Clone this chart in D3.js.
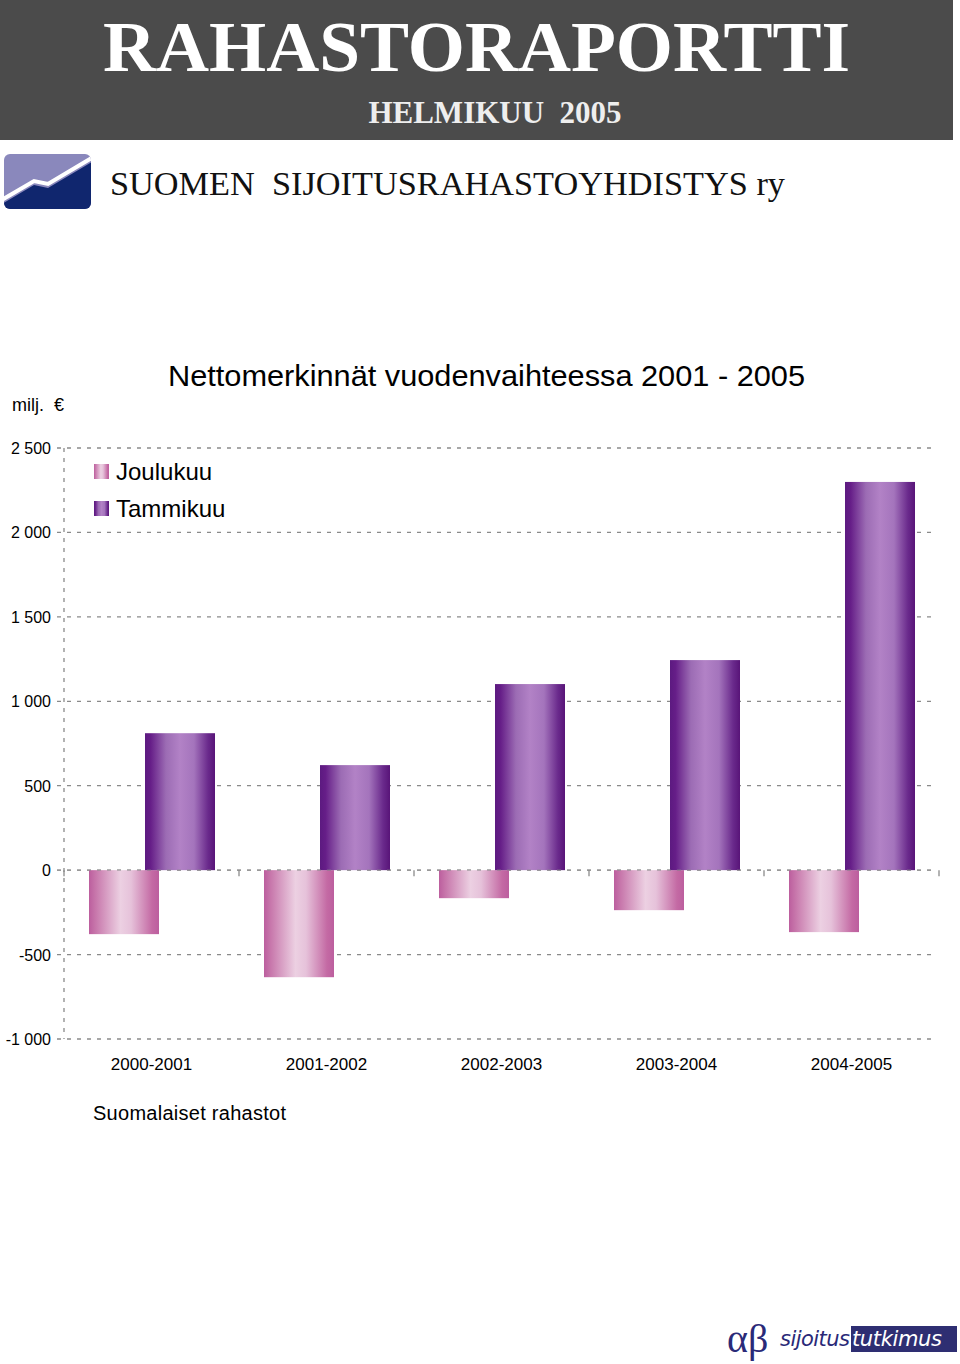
<!DOCTYPE html>
<html><head><meta charset="utf-8">
<script src="https://cdn.jsdelivr.net/npm/d3@7"></script>
<style>body{margin:0;background:#fff}svg{display:block}</style>
</head><body>
<script>
const categories = ["2000-2001","2001-2002","2002-2003","2003-2004","2004-2005"];
const seriesNames = ["Joulukuu","Tammikuu"];
const joulukuu = [-379,-634,-166,-237,-367];
const tammikuu = [811,622,1102,1244,2299];
const yTicks = [2500,2000,1500,1000,500,0,-500,-1000];
const yTickLabels = ["2 500","2 000","1 500","1 000","500","0","-500","-1 000"];

const W=960,H=1364;
const SANS="Liberation Sans, Arial, sans-serif", SERIF="Liberation Serif, DejaVu Serif, serif";
const svg=d3.select("body").append("svg").attr("width",W).attr("height",H);
const defs=svg.append("defs");
(function(){const g=defs.append("linearGradient").attr("id","gJ").attr("x1","0").attr("x2","1");
 [[0,"#bc5e9e"],[0.1,"#c878ac"],[0.45,"#ecd0e2"],[0.6,"#e6c2da"],[0.9,"#c46aa4"],[1,"#bc5e9e"]].forEach(s=>g.append("stop").attr("offset",s[0]).attr("stop-color",s[1]));})();
(function(){const g=defs.append("linearGradient").attr("id","gT").attr("x1","0").attr("x2","1");
 [[0,"#5c1a80"],[0.08,"#661e88"],[0.3,"#9c6cb4"],[0.5,"#b282c6"],[0.7,"#a474bc"],[0.9,"#6a2a8c"],[1,"#581478"]].forEach(s=>g.append("stop").attr("offset",s[0]).attr("stop-color",s[1]));})();

// Header
svg.append("rect").attr("x",0).attr("y",0).attr("width",953).attr("height",140).attr("fill","#4b4b4b");
svg.append("text").attr("x",103).attr("y",71).attr("fill","#fff")
 .attr("font-family",SERIF).attr("font-weight","bold").attr("font-size",72).attr("textLength",747).attr("lengthAdjust","spacingAndGlyphs").text("RAHASTORAPORTTI");
svg.append("text").attr("x",495).attr("y",123).attr("text-anchor","middle").attr("fill","#eeeeee")
 .attr("font-family",SERIF).attr("font-weight","bold").attr("font-size",31)
 .attr("xml:space","preserve").text("HELMIKUU  2005");
// logo
const lg=svg.append("g");
lg.append("clipPath").attr("id","lc").append("rect").attr("x",4).attr("y",154).attr("width",87).attr("height",55).attr("rx",6);
const lgc=lg.append("g").attr("clip-path","url(#lc)");
lgc.append("rect").attr("x",4).attr("y",154).attr("width",87).attr("height",55).attr("fill","#8a88bc");
lgc.append("path").attr("d","M0,205 L34,185 L48,188 L95,160 L95,215 L0,215 Z").attr("fill","#10266e");
lgc.append("path").attr("d","M0,201 L34,181 L48,184 L95,156").attr("fill","none").attr("stroke","#fff").attr("stroke-width",4);
svg.append("text").attr("x",110).attr("y",195).attr("fill","#111").attr("font-family",SERIF)
 .attr("font-size",33).attr("textLength",675).attr("lengthAdjust","spacingAndGlyphs").attr("xml:space","preserve").text("SUOMEN  SIJOITUSRAHASTOYHDISTYS ry");

// chart titles
svg.append("text").attr("x",168).attr("y",386).attr("font-family",SANS)
 .attr("font-size",30).attr("textLength",637).attr("lengthAdjust","spacingAndGlyphs").attr("fill","#000").text("Nettomerkinnät vuodenvaihteessa 2001 - 2005");
svg.append("text").attr("x",12).attr("y",411).attr("font-family",SANS).attr("font-size",18).text("milj.");
svg.append("text").attr("x",54).attr("y",411).attr("font-family",SANS).attr("font-size",18).text("€");

// scales
const y=d3.scaleLinear().domain([-1000,2500]).range([1039,448]);
const x=d3.scaleBand().domain(categories).range([64,939]).paddingInner(0).paddingOuter(0);
const bw=70;
// grid
const gridG=svg.append("g");
yTicks.forEach((t,i)=>{
  gridG.append("line").attr("x1",57).attr("x2",936).attr("y1",y(t)).attr("y2",y(t))
   .attr("stroke","#8a8a8a").attr("stroke-width",1.3).attr("stroke-dasharray","4,6");
  svg.append("text").attr("x",51).attr("y",y(t)+6).attr("text-anchor","end").attr("font-family",SANS)
   .attr("font-size",16).text(yTickLabels[i]);
});
svg.append("line").attr("x1",64).attr("x2",64).attr("y1",y(2500)).attr("y2",y(-1000)).attr("stroke","#8a8a8a").attr("stroke-width",1.3).attr("stroke-dasharray","4,6");
// category ticks at zero
categories.concat(["end"]).forEach((c,i)=>{
  const xx= i<categories.length ? x(c) : 939;
  svg.append("line").attr("x1",xx).attr("x2",xx).attr("y1",y(0)).attr("y2",y(0)+6).attr("stroke","#8a8a8a").attr("stroke-width",1.3);
});

// bars
const bars=svg.append("g");
categories.forEach((c,i)=>{
  const x0=x(c);
  const vJ=joulukuu[i], vT=tammikuu[i];
  bars.append("rect").attr("x",x0+25).attr("width",bw).attr("y",y(Math.max(0,vJ))).attr("height",Math.abs(y(vJ)-y(0))).attr("fill","url(#gJ)");
  bars.append("rect").attr("x",x0+81).attr("width",bw).attr("y",y(Math.max(0,vT))).attr("height",Math.abs(y(vT)-y(0))).attr("fill","url(#gT)");
  svg.append("text").attr("x",x0+x.bandwidth()/2).attr("y",1070).attr("text-anchor","middle")
   .attr("font-family",SANS).attr("font-size",17).text(c);
});
svg.append("line").attr("x1",57).attr("x2",936).attr("y1",y(0)).attr("y2",y(0)).attr("stroke","#8a8a8a").attr("stroke-width",1.3).attr("stroke-dasharray","4,6").attr("opacity",0.6);

// legend
const leg=svg.append("g");
seriesNames.forEach((s,i)=>{
  const yy=464+i*37;
  leg.append("rect").attr("x",94).attr("y",yy).attr("width",15).attr("height",15).attr("fill",i===0?"url(#gJ)":"url(#gT)");
  leg.append("text").attr("x",116).attr("y",yy+16).attr("font-family",SANS).attr("font-size",24).text(s);
});

svg.append("text").attr("x",93).attr("y",1120).attr("font-family",SANS).attr("font-size",20).attr("textLength",193).text("Suomalaiset rahastot");

// bottom logo
const bl=svg.append("g");
bl.append("text").attr("x",727).attr("y",1352).attr("font-family",SERIF).attr("font-size",40)
 .attr("fill","#2a2a78").text("αβ");
bl.append("rect").attr("x",851).attr("y",1326).attr("width",106).attr("height",26).attr("fill","#2e2e72");
bl.append("text").attr("x",780).attr("y",1346).attr("font-family","DejaVu Sans, sans-serif").attr("font-size",21).attr("font-style","italic")
 .attr("fill","#2a2a78").attr("textLength",70).text("sijoitus");
bl.append("text").attr("x",852).attr("y",1346).attr("font-family","DejaVu Sans, sans-serif").attr("font-size",21).attr("font-style","italic")
 .attr("fill","#fff").attr("textLength",90).text("tutkimus");
</script>
</body></html>
